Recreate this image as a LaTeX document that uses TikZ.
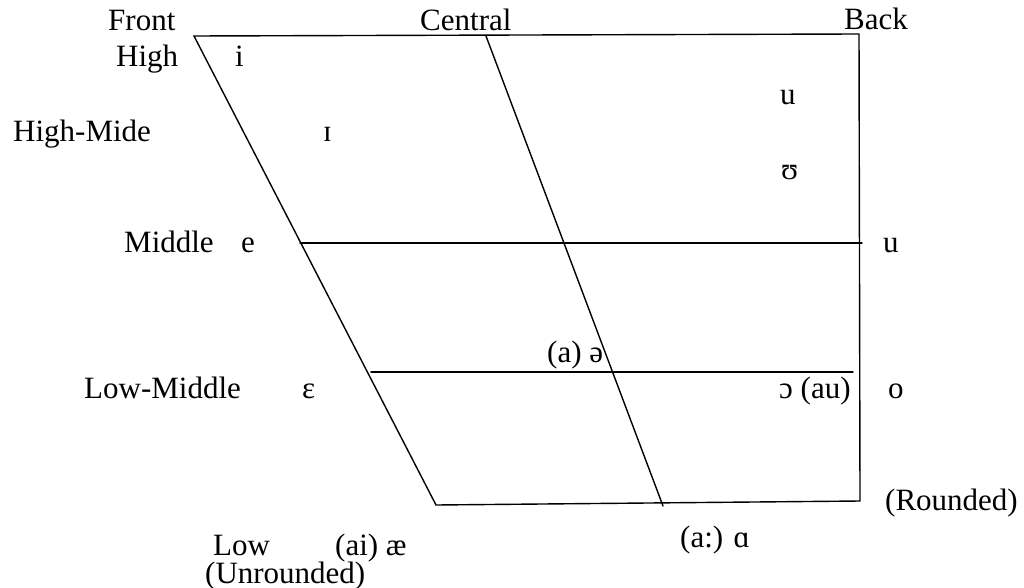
\documentclass[tikz,border=0pt]{standalone}
\usepackage{fontspec}
\setmainfont{Liberation Serif}
\begin{document}
\begin{tikzpicture}[x=1pt,y=-1pt,
  lbl/.style={anchor=base west,inner sep=0pt,font=\fontsize{31}{36}\selectfont},
  edge/.style={line width=1.4pt,line cap=round,black}]
\useasboundingbox (0,0) rectangle (1024,588);
% corners of the chart
\coordinate (tl) at (194,36);
\coordinate (tr) at (859,34);
\coordinate (bl) at (436,505);
\coordinate (br) at (860,501);
\coordinate (ct) at (486,36);
\coordinate (cb) at (663,506);
\coordinate (ml) at (300,243);
\coordinate (mr) at (862,243);
\coordinate (ll) at (371,372);
\coordinate (lr) at (853,372);
\draw[edge] (tl) -- (tr) -- (br) -- (bl) -- cycle;
\draw[edge] (ct) -- (cb);
\draw[edge] (ml) -- (mr);
\draw[edge] (ll) -- (lr);
% labels
\node[lbl] (front) at (108,31) {Front};
\node[lbl] (central) at (420,31) {Central};
\node[lbl] (back) at (844,30) {Back};
\node[lbl] (high) at (116,67) {High};
\node[lbl] (vi) at (235,67) {i};
\node[lbl] (vu1) at (780,105) {u};
\node[lbl] (highmid) at (13,142) {High-Mide};
\node[lbl] (vI) at (323,142) {ɪ};
\node[lbl] (vU) at (781,179) {ʊ};
\node[lbl] (middle) at (124,252) {Middle};
\node[lbl] (ve) at (241,252) {e};
\node[lbl] (vu2) at (883,252) {u};
\node[lbl] (schwa) at (547,362) {(a) ə};
\node[lbl] (lowmid) at (84,398) {Low-Middle};
\node[lbl] (veps) at (302,398) {ε};
\node[lbl] (vo1) at (779,398) {ɔ (au)};
\node[lbl] (vo2) at (888,398) {o};
\node[lbl] (rounded) at (885,510) {(Rounded)};
\node[lbl] (valpha) at (680,547) {(a:) ɑ};
\node[lbl] (low) at (213,555) {Low};
\node[lbl] (vae) at (335,555) {(ai) æ};
\node[lbl] (unrounded) at (205,583) {(Unrounded)};
\end{tikzpicture}
\end{document}
